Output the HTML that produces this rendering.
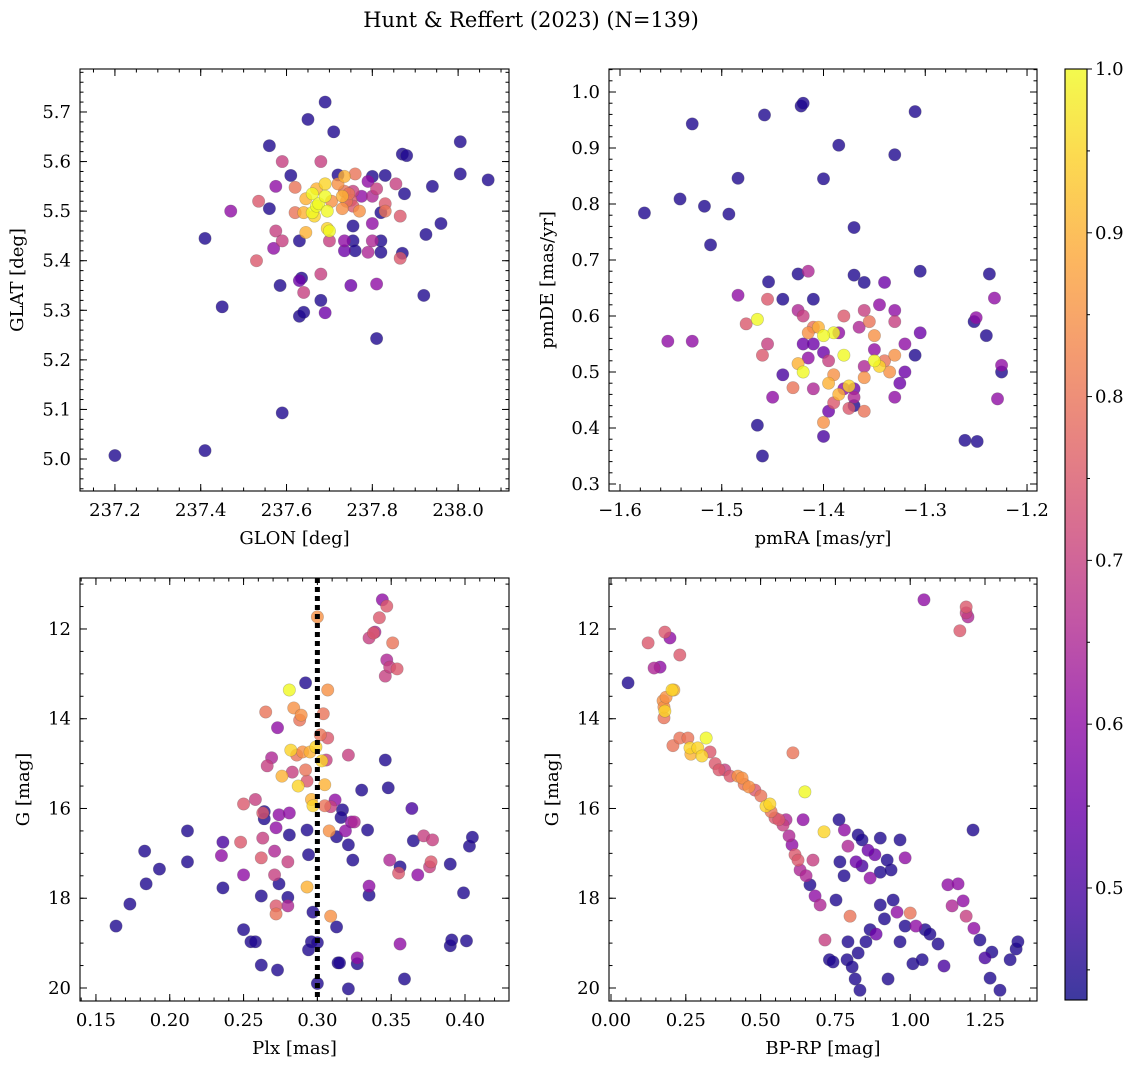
<!DOCTYPE html>
<html><head><meta charset="utf-8">
<style>
html,body{margin:0;padding:0;background:#fff;}
svg{display:block;font-family:"DejaVu Serif","Liberation Serif",serif;}
</style></head>
<body>
<svg id="fig" width="1136" height="1068" viewBox="0 0 1136 1068" xmlns="http://www.w3.org/2000/svg">
<defs>
<linearGradient id="plasma" x1="0" y1="1" x2="0" y2="0">
<stop offset="0" stop-color="#0d0887"/><stop offset="0.1" stop-color="#41049d"/><stop offset="0.2" stop-color="#6a00a8"/><stop offset="0.3" stop-color="#8f0da4"/><stop offset="0.4" stop-color="#b12a90"/><stop offset="0.5" stop-color="#cc4778"/><stop offset="0.6" stop-color="#e16462"/><stop offset="0.7" stop-color="#f2844b"/><stop offset="0.8" stop-color="#fca636"/><stop offset="0.9" stop-color="#fcce25"/><stop offset="1" stop-color="#f0f921"/>
</linearGradient>
</defs>
<text x="531" y="27" font-size="21" text-anchor="middle">Hunt &amp; Reffert (2023) (N=139)</text>
</svg>
<script>
// ---- data arrays: [x, y, probability] ----
const glonGlat = [[237.20,5.007,.45],[237.41,5.445,.45],[237.41,5.017,.45],[237.45,5.307,.45],[237.47,5.50,.6],[237.56,5.632,.45],[237.56,5.505,.45],[237.59,5.60,.7],[237.575,5.55,.6],[237.575,5.46,.7],[237.57,5.425,.6],[237.59,5.44,.7],[237.535,5.52,.75],[237.53,5.40,.75],[237.585,5.35,.45],[237.59,5.093,.45],[237.61,5.572,.45],[237.62,5.548,.8],[237.62,5.497,.8],[237.63,5.44,.45],[237.63,5.36,.55],[237.635,5.365,.45],[237.63,5.288,.45],[237.64,5.296,.45],[237.64,5.336,.7],[237.65,5.685,.45],[237.645,5.525,.9],[237.64,5.497,.9],[237.645,5.457,.9],[237.66,5.497,1],[237.66,5.535,1],[237.665,5.49,.95],[237.67,5.545,.9],[237.67,5.51,1],[237.675,5.515,1],[237.68,5.373,.7],[237.68,5.32,.45],[237.69,5.295,.55],[237.69,5.72,.45],[237.68,5.60,.7],[237.69,5.555,.95],[237.69,5.53,1],[237.695,5.50,1],[237.695,5.465,.95],[237.70,5.44,.7],[237.705,5.52,.85],[237.70,5.46,1],[237.71,5.66,.45],[237.72,5.573,.45],[237.72,5.555,.85],[237.73,5.53,.9],[237.73,5.505,.85],[237.735,5.54,.8],[237.735,5.57,.9],[237.74,5.52,.8],[237.745,5.535,.8],[237.75,5.522,.75],[237.75,5.35,.55],[237.735,5.44,.6],[237.735,5.42,.55],[237.755,5.51,.75],[237.755,5.54,.7],[237.755,5.47,.45],[237.755,5.44,.45],[237.76,5.42,.45],[237.76,5.575,.8],[237.77,5.50,.85],[237.79,5.56,.6],[237.775,5.53,.6],[237.81,5.545,.7],[237.80,5.53,.65],[237.81,5.353,.6],[237.81,5.243,.45],[237.82,5.497,.45],[237.82,5.44,.45],[237.82,5.417,.45],[237.80,5.44,.65],[237.80,5.475,.6],[237.83,5.515,.75],[237.83,5.50,.8],[237.83,5.572,.45],[237.80,5.57,.45],[237.79,5.417,.65],[237.855,5.555,.7],[237.865,5.49,.75],[237.875,5.535,.45],[237.865,5.405,.75],[237.87,5.415,.45],[237.87,5.615,.45],[237.88,5.612,.45],[237.92,5.33,.45],[237.925,5.453,.45],[237.94,5.55,.45],[237.96,5.475,.45],[238.005,5.64,.45],[238.005,5.575,.45],[238.07,5.563,.45]];
const pmraPmde = [[-1.576,.784,.45],[-1.529,.943,.45],[-1.553,.555,.6],[-1.529,.555,.6],[-1.541,.809,.45],[-1.517,.796,.45],[-1.493,.782,.45],[-1.484,.846,.45],[-1.511,.727,.45],[-1.484,.637,.6],[-1.476,.586,.75],[-1.458,.959,.45],[-1.454,.661,.45],[-1.46,.35,.45],[-1.465,.594,1],[-1.46,.53,.75],[-1.455,.55,.7],[-1.45,.455,.6],[-1.44,.495,.5],[-1.465,.405,.45],[-1.43,.472,.8],[-1.425,.515,.9],[-1.42,.55,.55],[-1.42,.50,1],[-1.415,.525,.6],[-1.41,.55,.55],[-1.455,.63,.75],[-1.42,.60,.7],[-1.415,.57,.85],[-1.41,.63,.45],[-1.405,.58,.9],[-1.40,.535,.55],[-1.395,.48,.9],[-1.39,.495,.85],[-1.385,.46,.9],[-1.38,.53,1],[-1.375,.475,.95],[-1.37,.455,.65],[-1.365,.58,.65],[-1.36,.61,.7],[-1.355,.59,.8],[-1.35,.565,.85],[-1.345,.62,.6],[-1.34,.66,.55],[-1.36,.66,.45],[-1.33,.455,.6],[-1.32,.50,.55],[-1.33,.53,.85],[-1.31,.53,.45],[-1.325,.48,.55],[-1.305,.57,.55],[-1.33,.59,.7],[-1.32,.55,.6],[-1.335,.50,.85],[-1.34,.52,.8],[-1.36,.43,.8],[-1.38,.47,.6],[-1.375,.435,.75],[-1.37,.44,.45],[-1.33,.61,.6],[-1.40,.41,.85],[-1.40,.385,.5],[-1.395,.43,.55],[-1.39,.445,.75],[-1.385,.57,.6],[-1.38,.60,.75],[-1.415,.68,.65],[-1.425,.675,.45],[-1.44,.63,.45],[-1.422,.975,.45],[-1.42,.98,.45],[-1.40,.845,.45],[-1.385,.905,.45],[-1.33,.888,.45],[-1.31,.965,.45],[-1.37,.758,.45],[-1.37,.673,.45],[-1.35,.54,.6],[-1.345,.51,.95],[-1.35,.52,1],[-1.36,.49,.85],[-1.37,.47,.55],[-1.39,.57,1],[-1.40,.565,1],[-1.41,.58,.8],[-1.425,.61,.65],[-1.305,.68,.45],[-1.261,.378,.45],[-1.249,.376,.45],[-1.252,.59,.45],[-1.25,.597,.6],[-1.24,.565,.45],[-1.237,.675,.45],[-1.232,.632,.6],[-1.225,.50,.45],[-1.225,.512,.6],[-1.229,.452,.6],[-1.36,.51,.65],[-1.395,.52,.7],[-1.41,.47,.65]];
const plxG = [[.1636,18.62,.45],[.173,18.13,.45],[.183,16.95,.45],[.184,17.68,.45],[.193,17.35,.45],[.212,16.5,.45],[.212,17.19,.45],[.236,16.75,.5],[.235,17.05,.6],[.236,17.77,.45],[.248,16.75,.75],[.250,15.9,.75],[.250,17.48,.6],[.250,18.7,.45],[.255,18.97,.45],[.258,18.97,.45],[.258,15.8,.7],[.263,16.1,.75],[.263,16.66,.7],[.262,17.1,.75],[.262,17.95,.45],[.262,19.49,.45],[.264,16.07,.45],[.264,16.23,.45],[.265,13.85,.8],[.266,15.05,.7],[.269,14.87,.65],[.271,16.95,.65],[.271,17.48,.7],[.272,18.17,.75],[.272,18.35,.8],[.273,19.6,.45],[.274,17.68,.45],[.272,16.43,.6],[.274,16.14,.6],[.276,15.28,.9],[.273,14.2,.6],[.280,17.19,.7],[.280,18.17,.65],[.280,17.98,.45],[.281,13.36,1],[.282,14.7,.95],[.281,16.1,.6],[.281,16.59,.45],[.283,15.19,.7],[.284,13.76,.85],[.286,14.81,.8],[.288,14.03,.8],[.287,15.5,.95],[.289,13.92,.85],[.290,14.74,.85],[.292,15.14,.8],[.293,15.39,.75],[.293,16.48,.45],[.293,17.75,.9],[.294,17.03,.45],[.292,13.2,.45],[.295,14.74,.9],[.296,18.97,.45],[.296,15.8,.9],[.297,15.94,.95],[.297,18.31,.45],[.299,14.63,.95],[.300,11.73,.85],[.302,14.36,.8],[.303,14.94,.95],[.304,13.89,.8],[.305,15.94,.8],[.305,15.47,.9],[.306,14.92,.7],[.307,14.43,.75],[.307,13.36,.85],[.308,16.5,.85],[.309,18.4,.85],[.309,15.96,.7],[.312,15.81,.6],[.313,18.64,.45],[.314,19.44,.45],[.315,19.44,.45],[.317,16.03,.45],[.319,16.5,.6],[.321,20.02,.45],[.321,14.81,.7],[.321,16.81,.45],[.323,16.3,.6],[.324,17.15,.45],[.325,16.3,.65],[.327,19.33,.6],[.327,19.46,.45],[.330,15.59,.45],[.334,16.48,.45],[.335,17.73,.6],[.335,17.93,.45],[.335,12.2,.7],[.338,12.09,.75],[.339,12.07,.65],[.342,11.75,.75],[.344,11.35,.6],[.346,13.05,.7],[.347,11.49,.75],[.347,12.69,.65],[.351,12.31,.8],[.349,12.85,.7],[.354,12.89,.75],[.346,14.92,.45],[.348,15.54,.45],[.349,17.15,.65],[.356,19.02,.6],[.355,17.44,.75],[.356,17.3,.45],[.359,19.8,.45],[.365,16.72,.45],[.368,17.48,.6],[.372,16.61,.7],[.376,17.3,.7],[.377,17.19,.75],[.378,16.7,.7],[.364,16.0,.5],[.390,19.06,.45],[.391,18.93,.45],[.390,17.24,.45],[.399,17.88,.45],[.401,18.95,.45],[.403,16.84,.45],[.405,16.64,.45],[.316,16.2,.45],[.300,18.99,.45],[.300,19.9,.45],[.294,19.15,.45],[.313,16.63,.45]];
const colorG = [[.057,13.2,.45],[.124,12.31,.75],[.144,12.87,.65],[.164,12.85,.6],[.174,13.6,.85],[.177,13.74,.85],[.177,13.98,.8],[.18,13.83,.95],[.184,13.52,.85],[.18,12.07,.75],[.197,12.2,.6],[.204,13.36,.95],[.21,13.36,.9],[.23,12.58,.75],[.207,14.6,.8],[.23,14.43,.8],[.257,14.43,.8],[.264,14.65,.95],[.267,14.79,.9],[.29,14.65,.95],[.304,14.83,.95],[.318,14.43,1],[.331,14.74,.75],[.348,15.0,.75],[.361,15.14,.75],[.38,15.14,.7],[.398,15.28,.75],[.424,15.28,.85],[.438,15.32,.85],[.445,15.46,.8],[.461,15.52,.85],[.481,15.59,.75],[.501,15.72,.8],[.518,15.95,.95],[.531,15.9,.95],[.535,16.07,.8],[.548,16.21,.75],[.561,16.25,.75],[.575,16.37,.7],[.585,16.25,.65],[.595,16.61,.65],[.605,16.81,.6],[.608,14.76,.8],[.615,17.03,.75],[.625,17.15,.75],[.632,17.37,.65],[.642,16.25,.6],[.648,15.63,1],[.652,17.5,.65],[.665,17.7,.45],[.675,17.15,.7],[.682,17.95,.6],[.699,18.15,.65],[.715,18.93,.7],[.73,19.37,.45],[.742,19.42,.45],[.752,18.04,.45],[.765,17.19,.45],[.779,17.5,.45],[.789,19.37,.45],[.792,18.97,.45],[.799,18.4,.8],[.806,19.53,.45],[.816,19.8,.45],[.826,19.22,.45],[.832,20.05,.45],[.852,18.97,.45],[.866,18.7,.45],[.886,18.8,.55],[.90,17.42,.45],[.914,18.46,.45],[.926,19.8,.45],[.936,17.37,.45],[.943,18.04,.45],[.956,18.31,.6],[.966,18.97,.45],[.983,18.62,.45],[1.0,18.33,.8],[1.009,19.46,.45],[1.019,18.62,.6],[1.04,19.37,.45],[1.05,18.7,.45],[1.066,18.8,.45],[1.093,19.02,.45],[1.113,19.51,.5],[1.126,17.7,.6],[1.14,18.17,.65],[1.16,17.68,.6],[1.177,18.06,.6],[1.187,18.4,.7],[1.21,16.48,.45],[1.213,18.67,.6],[1.233,18.93,.45],[1.25,19.33,.5],[1.273,19.2,.45],[1.267,19.78,.45],[1.3,20.05,.45],[1.334,19.37,.45],[1.354,19.13,.45],[1.36,18.97,.45],[1.166,12.04,.75],[1.187,11.51,.75],[1.187,11.64,.7],[1.193,11.73,.65],[1.046,11.35,.6],[.712,16.52,.95],[.762,16.25,.45],[.78,16.48,.6],[.792,16.84,.65],[.819,17.19,.55],[.839,17.28,.5],[.866,17.55,.6],[.882,17.03,.55],[.859,16.93,.55],[.826,16.59,.45],[.839,16.7,.45],[.9,16.66,.45],[.923,17.15,.45],[.966,16.7,.45],[.983,17.1,.6],[.9,18.15,.45]];
const p1XTicks = [237.2,237.4,237.6,237.8,238.0];
const p1YTicks = [5.0,5.1,5.2,5.3,5.4,5.5,5.6,5.7];
const p2XTicks = [-1.6,-1.5,-1.4,-1.3,-1.2];
const p2YTicks = [0.3,0.4,0.5,0.6,0.7,0.8,0.9,1.0];
const p3XTicks = [0.15,0.20,0.25,0.30,0.35,0.40];
const gTicks = [12,14,16,18,20];
const p4XTicks = [0.00,0.25,0.50,0.75,1.00,1.25];
const cbTicks = [0.5,0.6,0.7,0.8,0.9,1.0];
const plxRef = [0.30];
const probRange = [0.4316,1.0];

const NS="http://www.w3.org/2000/svg";
const svg=document.getElementById('fig');
const FS=18;
const stops=[[13,8,135],[65,4,157],[106,0,168],[143,13,164],[177,42,144],[204,71,120],[225,100,98],[242,132,75],[252,166,54],[252,206,37],[240,249,33]];
function plasma(v){
  let t=(v-probRange[0])/(probRange[1]-probRange[0]);t=Math.max(0,Math.min(1,t));
  const f=t*10,i=Math.min(9,Math.floor(f)),r=f-i,a=stops[i],b=stops[i+1];
  return 'rgb('+[0,1,2].map(k=>Math.round(a[k]+(b[k]-a[k])*r)).join(',')+')';
}
function mk(tag,attrs,parent){const e=document.createElementNS(NS,tag);for(const k in attrs)e.setAttribute(k,attrs[k]);(parent||svg).appendChild(e);return e;}
function fmt(v,d){return (v<0?'\u2212':'')+Math.abs(v).toFixed(d);}

function panel(cfg){
  const g=mk('g',{});
  
  
  const L=cfg.box[0],T=cfg.box[1],R=cfg.box[2],B=cfg.box[3];
  const sx=v=>L+(v-cfg.xd[0])/(cfg.xd[1]-cfg.xd[0])*(R-L);
  const sy=cfg.yinv?(v=>T+(v-cfg.yd[0])/(cfg.yd[1]-cfg.yd[0])*(B-T)):(v=>B-(v-cfg.yd[0])/(cfg.yd[1]-cfg.yd[0])*(B-T));
  const pts=cfg.data.slice().sort((a,b)=>a[2]-b[2]);
  pts.forEach(d=>{
    const c=mk('circle',{cx:sx(d[0]),cy:sy(d[1]),r:6.2,fill:plasma(d[2]),'fill-opacity':0.8,stroke:'#555','stroke-opacity':0.35,'stroke-width':0.6},g);
    
    
  });
  if(cfg.vline){cfg.vline.forEach(v=>{
    const ln=mk('line',{x1:sx(v),x2:sx(v),y1:T,y2:B,stroke:'#000','stroke-width':5,'stroke-dasharray':'5,4'},g);
    
    
  });}
  const fr=mk('rect',{x:L,y:T,width:R-L,height:B-T,fill:'none',stroke:'#000','stroke-width':1.1},g);
  
  
  const eps=1e-9;
  for(let v=Math.ceil(cfg.xd[0]/cfg.xm-eps)*cfg.xm; v<=cfg.xd[1]+eps; v+=cfg.xm){const x=sx(v);mk('line',{x1:x,x2:x,y1:B,y2:B-3.5,stroke:'#000'},g);mk('line',{x1:x,x2:x,y1:T,y2:T+3.5,stroke:'#000'},g);}
  for(let v=Math.ceil(cfg.yd[0]/cfg.ym-eps)*cfg.ym; v<=cfg.yd[1]+eps; v+=cfg.ym){const y=sy(v);mk('line',{x1:L,x2:L+3.5,y1:y,y2:y,stroke:'#000'},g);mk('line',{x1:R,x2:R-3.5,y1:y,y2:y,stroke:'#000'},g);}
  cfg.xt.forEach(v=>{const x=sx(v);mk('line',{x1:x,x2:x,y1:B,y2:B-7,stroke:'#000'},g);mk('line',{x1:x,x2:x,y1:T,y2:T+7,stroke:'#000'},g);
    const t=mk('text',{x:x,y:B+25,'font-size':FS,'text-anchor':'middle'},g);t.textContent=fmt(v,cfg.xdp);
    
    });
  cfg.yt.forEach(v=>{const y=sy(v);mk('line',{x1:L,x2:L+7,y1:y,y2:y,stroke:'#000'},g);mk('line',{x1:R,x2:R-7,y1:y,y2:y,stroke:'#000'},g);
    const t=mk('text',{x:L-9,y:y+6,'font-size':FS,'text-anchor':'end'},g);t.textContent=fmt(v,cfg.ydp);
    
    });
  const xl=mk('text',{x:(L+R)/2,y:B+53,'font-size':FS,'text-anchor':'middle'},g);xl.textContent=cfg.xl;
  
  
  const yx=cfg.ylx,yy=(T+B)/2;
  const yl=mk('text',{x:yx,y:yy,'font-size':FS,'text-anchor':'middle',transform:'rotate(-90 '+yx+' '+yy+')'},g);yl.textContent=cfg.yl;
  
  
}

panel({name:'glon-glat-panel',box:[80,69,509,491],xd:[237.1186,238.1186],yd:[4.9355,5.7867],xt:p1XTicks,yt:p1YTicks,xm:0.05,ym:0.02,xdp:1,ydp:1,data:glonGlat,xl:'GLON [deg]',yl:'GLAT [deg]',ylx:23});
panel({name:'pm-panel',box:[609,69,1037,491],xd:[-1.6108,-1.1902],yd:[0.2875,1.0411],xt:p2XTicks,yt:p2YTicks,xm:0.02,ym:0.02,xdp:1,ydp:1,data:pmraPmde,xl:'pmRA [mas/yr]',yl:'pmDE [mas/yr]',ylx:553});
panel({name:'plx-g-panel',box:[80,578,509,1001],xd:[0.1392,0.4298],yd:[10.864,20.29],yinv:true,xt:p3XTicks,yt:gTicks,xm:0.01,ym:0.5,xdp:2,ydp:0,data:plxG,xl:'Plx [mas]',yl:'G [mag]',ylx:29,vline:plxRef});
panel({name:'cmd-panel',box:[609,578,1037,1001],xd:[-0.0067,1.4238],yd:[10.864,20.29],yinv:true,xt:p4XTicks,yt:gTicks,xm:0.05,ym:0.5,xdp:2,ydp:0,data:colorG,xl:'BP-RP [mag]',yl:'G [mag]',ylx:558});

(function(){
  const L=1065,R=1087,T=69,B=1000;
  const cb=mk('rect',{x:L,y:T,width:R-L,height:B-T,fill:'url(#plasma)','fill-opacity':0.8});
  
  
  mk('rect',{x:L,y:T,width:R-L,height:B-T,fill:'none',stroke:'#000','stroke-width':1.1});
  const sy=v=>B-(v-probRange[0])/(probRange[1]-probRange[0])*(B-T);
  cbTicks.forEach(v=>{const y=sy(v);mk('line',{x1:R,x2:R+5,y1:y,y2:y,stroke:'#000'});
    const t=mk('text',{x:R+8,y:y+6,'font-size':FS},svg);t.textContent=v.toFixed(1);
    
    });
  for(let v=0.45;v<1.0;v+=0.1){const y=sy(v);mk('line',{x1:R,x2:R+3,y1:y,y2:y,stroke:'#000'});}
})();
</script>
</body></html>
